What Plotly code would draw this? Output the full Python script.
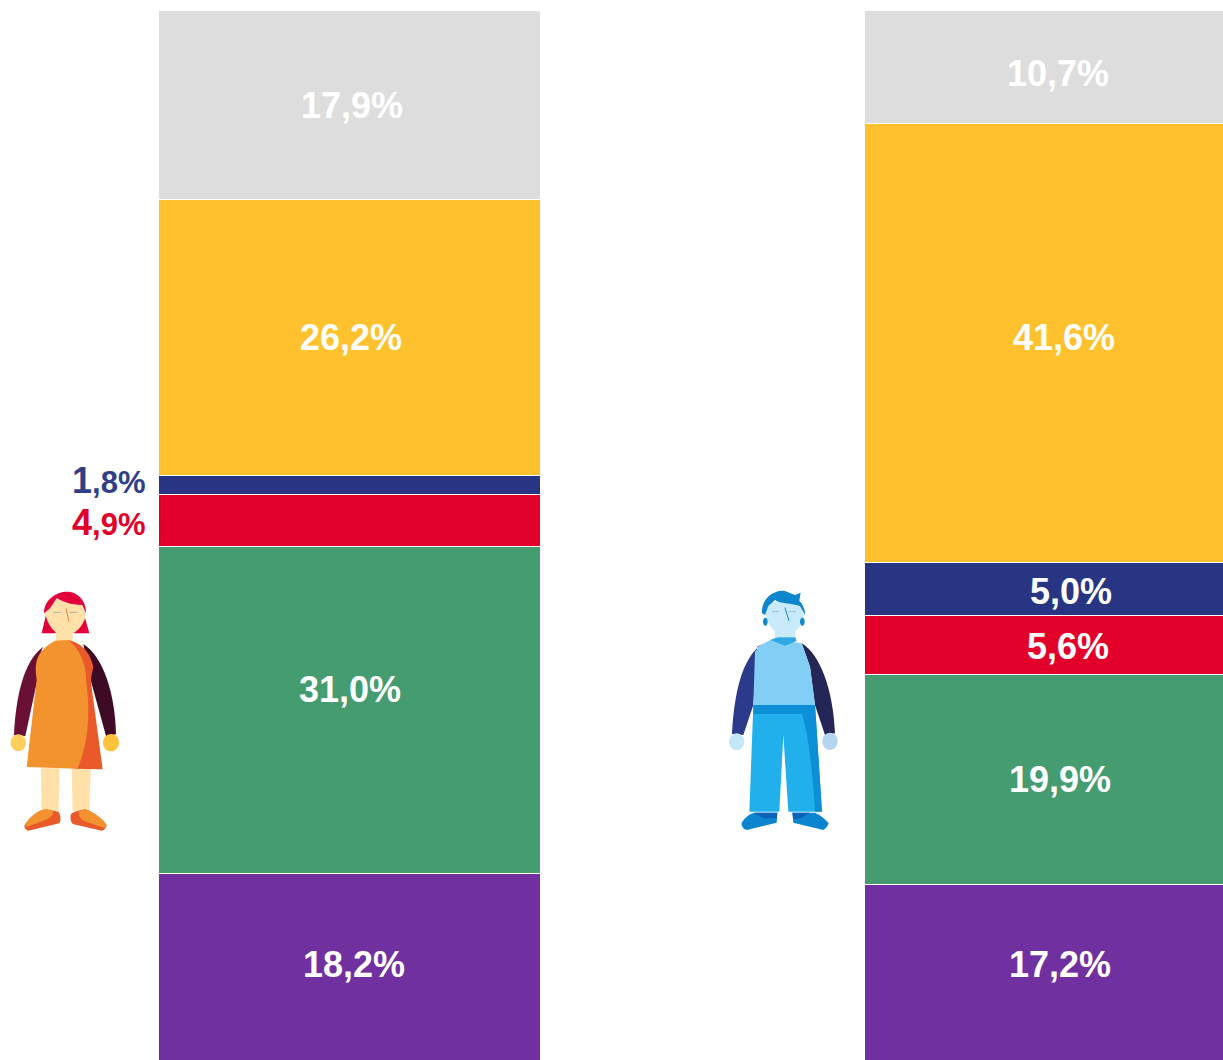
import re
import plotly.graph_objects as go

W, H = 1223, 1060

categories = ["Women", "Men"]
series_names = ["Purple", "Green", "Red", "Navy", "Yellow", "Grey"]
purple = [18.2, 17.2]
green = [31.0, 19.9]
red = [4.9, 5.6]
navy = [1.8, 5.0]
yellow = [26.2, 41.6]
grey = [17.9, 10.7]
series_values = [purple, green, red, navy, yellow, grey]
colors = ["#7030A0", "#469C71", "#E2002B", "#283583", "#FFC22E", "#DDDDDD"]

fig = go.Figure()
for name, vals, col in zip(series_names, series_values, colors):
    fig.add_trace(go.Bar(
        x=categories, y=vals, name=name, width=0.54,
        marker=dict(color=col, line=dict(color="white", width=1)),
        hoverinfo="skip", showlegend=False))


def fmt(v):
    return f"{v:.1f}".replace(".", ",") + "%"


annotations = []


def label(text, px, py, color="white", anchor="center"):
    annotations.append(dict(
        text=text, x=px / W, y=1 - py / H, xref="paper", yref="paper",
        xanchor=anchor, yanchor="middle", showarrow=False, align="center",
        font=dict(family="Liberation Sans, Arial, sans-serif", size=36, color=color)))


# (series index, bar index, label centre in pixels)
white_labels = [
    (5, 0, 352, 105), (4, 0, 351, 337), (1, 0, 350, 689), (0, 0, 354, 964),
    (5, 1, 1058, 73), (4, 1, 1064, 337), (3, 1, 1071, 591), (2, 1, 1068, 646),
    (1, 1, 1060, 779), (0, 1, 1060, 964),
]
for s, b, px, py in white_labels:
    label(f"<b>{fmt(series_values[s][b])}</b>", px, py)


def split_label(v):
    t = fmt(v)
    return f"<b>{t[0]}<span style='font-size:31px'>{t[1:]}</span></b>"


label(split_label(navy[0]), 147, 480, "#2F4087", "right")
label(split_label(red[0]), 147, 522, "#E2002B", "right")

shapes = []


def to_paper(path, ox, oy):
    nums = re.compile(r"(-?[\d.]+),(-?[\d.]+)")
    def repl(m):
        x = (float(m.group(1)) / 3 + ox) / W
        y = 1 - (float(m.group(2)) / 3 + oy) / H
        return f"{x:.5f},{y:.5f}"
    return nums.sub(repl, path)


def add(path, color, ox, oy, line=None, lw=1):
    shapes.append(dict(
        type="path", path=to_paper(path, ox, oy), xref="paper", yref="paper",
        fillcolor=color if line is None else "rgba(0,0,0,0)",
        line=dict(color=line or color, width=lw if line else 0), layer="above"))


def blob(cx, cy, rx, ry):
    k = 0.5523
    return (f"M{cx-rx},{cy} C{cx-rx},{cy-k*ry} {cx-k*rx},{cy-ry} {cx},{cy-ry} "
            f"C{cx+k*rx},{cy-ry} {cx+rx},{cy-k*ry} {cx+rx},{cy} "
            f"C{cx+rx},{cy+k*ry} {cx+k*rx},{cy+ry} {cx},{cy+ry} "
            f"C{cx-k*rx},{cy+ry} {cx-rx},{cy+k*ry} {cx-rx},{cy} Z")


# Woman pictogram
ox, oy = 0, 580
add("M125,160 L140,95 L250,95 L268,160 L222,160 L195,130 L165,160 Z", "#E4003A", ox, oy)
add("M168,140 L218,140 L218,184 L168,184 Z", "#FFE0A8", ox, oy)
add("M130,200 C85,232 50,310 42,465 L76,468 L112,300 L125,210 Z", "#6B1035", ox, oy)
add("M250,192 C310,230 345,340 348,463 L318,468 L272,300 Z", "#3F0A25", ox, oy)
add(blob(55, 488, 23, 25), "#FFCF5C", ox, oy)
add(blob(333, 488, 24, 26), "#FFC23E", ox, oy)
add("M123,565 L178,565 L176,692 L125,692 Z", "#FFE0A8", ox, oy)
add("M215,565 L272,565 L268,692 L218,692 Z", "#FFE0A8", ox, oy)
add("M74,735 C90,710 115,690 140,688 L175,695 C182,705 184,720 178,730 L85,752 C76,750 72,742 74,735 Z", "#E9592A", ox, oy)
add("M74,735 C90,710 115,690 140,688 L160,692 C160,705 150,715 135,720 L82,740 Z", "#F39330", ox, oy)
add("M212,705 C215,698 225,694 255,688 C280,695 310,718 320,736 C318,745 312,752 305,752 L218,732 C212,725 210,715 212,705 Z", "#E9592A", ox, oy)
add("M236,695 L255,688 C280,695 310,718 320,736 L314,744 L250,722 C240,715 236,705 236,695 Z", "#F39330", ox, oy)
add("M205,180 C240,188 268,210 280,260 L272,300 L308,568 L225,566 Z", "#E9592A", ox, oy)
add("M165,182 L205,180 C240,205 260,260 258,300 C275,420 258,510 232,566 L80,561 L110,300 C100,240 115,210 165,182 Z", "#F39330", ox, oy)
add("M135,100 L170,57 C200,70 230,75 247,75 L258,105 C250,140 225,166 195,166 C165,166 145,140 135,100 Z", "#FFE0A8", ox, oy)
add("M132,100 C132,55 175,33 205,35 C240,38 260,70 258,100 L247,75 C210,75 190,65 170,55 L150,85 Z", "#E4003A", ox, oy)
add("M160,97 L182,97", "", ox, oy, line="#A9B0A0", lw=1)
add("M208,97 L230,97", "", ox, oy, line="#A9B0A0", lw=1)
add("M198,85 L207,125", "", ox, oy, line="#E9803A", lw=1)

# Man pictogram
ox, oy = 720, 580
add("M130,190 C80,222 45,300 36,462 L70,465 L100,375 L112,200 Z", "#2B3A8A", ox, oy)
add("M245,190 C300,222 340,330 345,460 L315,465 L285,375 L270,260 Z", "#232657", ox, oy)
add(blob(50, 485, 23, 25), "#C5E7FA", ox, oy)
add(blob(330, 484, 23, 26), "#B5D4F0", ox, oy)
add("M100,375 L285,375 L306,695 L205,695 L190,465 L178,695 L88,695 Z", "#22B0EC", ox, oy)
add("M100,375 L285,375 L287,402 L100,402 Z", "#0C8FD6", ox, oy)
add("M245,402 L287,402 L306,695 L285,695 C280,600 265,450 245,402 Z", "#0C8FD6", ox, oy)
add("M155,178 L245,190 L270,260 L285,375 L100,375 L105,215 L122,196 Z", "#83CEF5", ox, oy)
add("M152,180 L175,170 L225,170 L230,183 L195,197 Z", "#2FA8E4", ox, oy)
add("M65,728 C75,712 90,700 105,698 L172,698 L170,728 L80,750 C70,748 63,738 65,728 Z", "#0C85D0", ox, oy)
add("M100,698 L172,698 L170,715 L130,715 Z", "#0A62B8", ox, oy)
add("M217,698 L285,698 C300,705 318,718 326,730 C322,740 316,748 310,750 L220,728 Z", "#0C85D0", ox, oy)
add("M217,698 L270,698 L240,716 L220,716 Z", "#0A62B8", ox, oy)
add("M165,140 L225,140 L225,172 L165,172 Z", "#C8EAFB", ox, oy)
add("M135,100 L145,65 L245,70 L250,115 C240,145 220,168 195,168 C170,168 148,145 135,100 Z", "#C8EAFB", ox, oy)
add(blob(136, 125, 7, 12), "#0E86CE", ox, oy)
add(blob(247, 125, 7, 12), "#0E86CE", ox, oy)
add("M126,100 C122,60 160,28 195,33 L225,45 L242,38 L238,62 C250,75 256,90 255,105 L240,78 C210,68 180,72 165,60 L145,78 L135,105 Z", "#0E86CE", ox, oy)
add("M156,95 L178,95", "", ox, oy, line="#A9BCC8", lw=1)
add("M206,95 L228,95", "", ox, oy, line="#A9BCC8", lw=1)
add("M195,83 L207,123", "", ox, oy, line="#0E86CE", lw=1)

fig.update_layout(
    barmode="stack", width=W, height=H,
    margin=dict(l=0, r=0, t=0, b=0, pad=0), autosize=False,
    paper_bgcolor="white", plot_bgcolor="white",
    xaxis=dict(visible=False, range=[-0.4955, 1.2365], domain=[0, 1],
               type="category", categoryorder="array", categoryarray=categories),
    yaxis=dict(visible=False, range=[0.57, 100], domain=[0, 1 - 11 / H]),
    annotations=annotations, shapes=shapes, bargap=0)

fig.write_html("out.html", config=dict(displayModeBar=False),
               post_script="document.body.style.margin='0';document.body.style.overflow='hidden';")
